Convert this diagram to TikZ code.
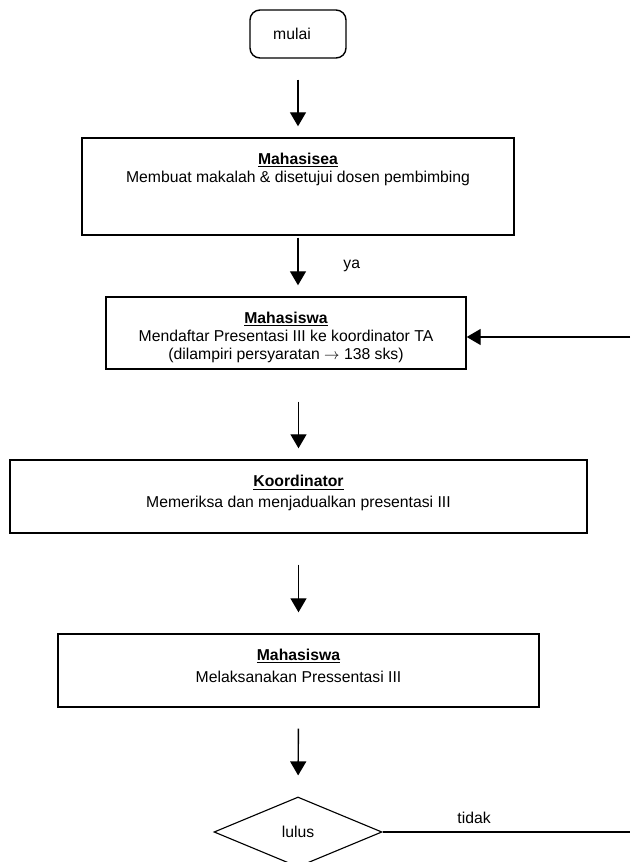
\documentclass[tikz,border=0pt]{standalone}
\usepackage{fontspec}
\setmainfont{Liberation Sans}
\usetikzlibrary{arrows.meta,positioning,shapes.geometric}
\tikzset{
	kotak/.style={draw, line width=1pt, inner sep=0pt},
	isi/.style={align=center},
	panah/.style={line width=1pt, -{Triangle[width=0.4cm,length=0.35cm]}}
}
\newcommand{\judul}[1]{\underline{\textbf{#1}}}

\begin{document}
\begin{tikzpicture}[font=\fontsize{11.2}{12.8}\selectfont]
\useasboundingbox (0,0) rectangle (15.75,21.55);
% Start
\node [kotak, rounded corners=0.25cm, minimum width=2.4cm, minimum height=1.2cm] 
	(mulai) at (7.45,20.7) {mulai\hspace*{0.3cm}};
% Paper
\node [kotak, minimum width=10.8cm, minimum height=2.425cm] (makalah) at (7.45,16.8875) {};
\node [isi, below=0.27cm of makalah.north] 
	{\judul{Mahasisea}\\ Membuat makalah \& disetujui dosen pembimbing};
% Registration
\node [kotak, minimum width=9cm, minimum height=1.8cm] (daftar) at (7.15,13.225) {};
\node [isi, below=0.26cm of daftar.north] 
	{\judul{Mahasiswa}\\ Mendaftar Presentasi III ke koordinator TA\\ 
	(dilampiri persyaratan $\rightarrow$ 138 sks)};
% Coordinator
\node [kotak, minimum width=14.425cm, minimum height=1.825cm] (koord) at (7.4625,9.1375) {};
\node [isi, below=0.28cm of koord.north] 
	{\judul{Koordinator}\\[2pt] Memeriksa dan menjadualkan presentasi III};
% Presentation
\node [kotak, minimum width=12.025cm, minimum height=1.825cm] (presentasi) at (7.4625,4.7875) {};
\node [isi, below=0.26cm of presentasi.north] 
	{\judul{Mahasiswa}\\[3pt] Melaksanakan Pressentasi III};
% Decision
\node [draw, line width=0.8pt, diamond, minimum width=4.2cm, minimum height=1.75cm, inner sep=0pt] 
	(lulus) at (7.45,0.75) {lulus};
% Loose ends at the right border
\coordinate (tidakujung) at (15.75,0.75);
\coordinate (ulang) at (15.75,13.125);
% Arrows
\draw [panah, shorten <=0.525cm, shorten >=0.275cm] (mulai.south) -- (makalah.north);
\draw [panah, shorten <=0.05cm, shorten >=0.275cm] (makalah.south) -- 
	node[right=1cm] {ya} (makalah.south |- daftar.north);
\draw [panah, shorten <=0.8cm, shorten >=0.275cm] (koord.north |- daftar.south) -- (koord.north);
\draw [panah, shorten <=0.775cm, shorten >=0.525cm] (koord.south) -- (presentasi.north);
\draw [panah, shorten <=0.525cm, shorten >=0.525cm] (presentasi.south) -- (lulus.north);
\draw [line width=1pt] (lulus.east) -- node[above=0.08cm, pos=0.37] {tidak} (tidakujung);
\draw [panah] (ulang) -- (ulang -| daftar.east);

\end{tikzpicture}
\end{document}
